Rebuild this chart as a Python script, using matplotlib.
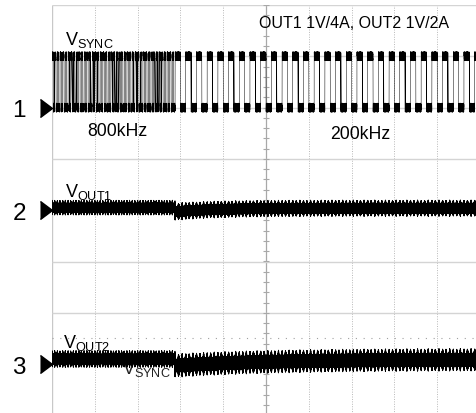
import numpy as np
import matplotlib
matplotlib.use('Agg')
import matplotlib.pyplot as plt

plt.rcParams['font.family'] = 'Liberation Sans'
plt.rcParams['mathtext.fontset'] = 'custom'
plt.rcParams['mathtext.rm'] = 'Liberation Sans'
plt.rcParams['mathtext.it'] = 'Liberation Sans:italic'
plt.rcParams['mathtext.bf'] = 'Liberation Sans:bold'

# Scope screen: 20 us/div, 10 x 8 divisions
time_per_div = 20.0
n_xdiv = 10
n_ydiv = 8

# Channel ground markers (div)
channel_names = ['1', '2', '3']
channel_offsets = [2.0, 0.0, -3.0]

# Sync clock, switched from 800 kHz to 200 kHz
sync_freqs = [0.8, 0.2]     # MHz
sync_labels = ['800kHz', '200kHz']
t_step = 57.5               # us
sync_swing = 1.0            # div
sync_noise = 0.09           # div

# Output ripple (div, relative to marker): before step, right after, settled
vout1_level = [0.05, -0.03, 0.04]
vout1_band = [0.09, 0.10, 0.10]
vout1_spike = [0.06, 0.07, 0.06]
vout2_level = [0.10, -0.03, 0.09]
vout2_band = [0.10, 0.13, 0.13]
vout2_spike = [0.07, 0.10, 0.09]
ripple_freqs = [0.8, 0.6]   # MHz
recovery_tau = [20.0, 45.0]  # us

t = np.arange(0, n_xdiv * time_per_div + 0.004, 0.004)
after = t >= t_step
fuzz = 0.75 * np.sin(2 * np.pi * 37.3 * t) + 0.25 * np.sin(2 * np.pi * 11.7 * t + 0.7)

# sync square wave
phase = np.where(after, sync_freqs[1] * (t - t_step), sync_freqs[0] * (t - t_step))
high = np.mod(phase, 1.0) < 0.5
v_sync = channel_offsets[0] + sync_swing * high + sync_noise * fuzz


def settle(vals, tau):
    return np.where(after, vals[2] + (vals[1] - vals[2]) * np.exp(-(t - t_step) / tau), vals[0])


def output_trace(offset, level, band, spike, tau):
    fr = np.where(after, ripple_freqs[1] * (t - t_step), ripple_freqs[0] * (t - t_step))
    pulse = np.abs(np.cos(np.pi * fr)) ** 10
    amp = settle(band, tau) + settle(spike, tau) * pulse
    return offset + settle(level, tau) + amp * fuzz


v_out1 = output_trace(channel_offsets[1], vout1_level, vout1_band, vout1_spike, recovery_tau[0])
v_out2 = output_trace(channel_offsets[2], vout2_level, vout2_band, vout2_spike, recovery_tau[1])

fig = plt.figure(figsize=(4.77, 4.14), dpi=100)
ax = fig.add_axes([52 / 477, -2.4 / 414, 428 / 477, 410.4 / 414])
t_max = n_xdiv * time_per_div
ax.set_xlim(0, t_max)
ax.set_ylim(-n_ydiv / 2, n_ydiv / 2)
ax.axis('off')

# graticule
xdivs = np.arange(1, n_xdiv) * time_per_div
ax.vlines([d for d in xdivs if d != t_max / 2], -4, 4, colors='#b8b8b8',
          linestyles=(0, (1, 1.5)), linewidth=0.7, zorder=1)
ax.vlines([0], -4, 4, colors='#c8c8c8', linewidth=1.0, zorder=1)
ax.vlines([t_max / 2], -4, 4, colors='#a8a8a8', linewidth=0.9, zorder=1)
ax.hlines(np.arange(-4, 5), 0, t_max, colors='#d4d4d4', linewidth=1.0, zorder=1)
ax.hlines([-2.5], 0, t_max, colors='#a0a0a0', linestyles=(0, (1, 6)), linewidth=0.8, zorder=1)
minor = np.arange(-4, 4.01, 0.2)
ax.hlines(minor, t_max / 2 - 1.4, t_max / 2 + 1.4, colors='#a8a8a8', linewidth=0.8, zorder=1)

# lower sync label sits under the VOUT2 trace
ax.text(32.6, -3.18, r'$\mathrm{V_{SYNC}}$', fontsize=13, color='#222222', zorder=2)

ax.plot(t, v_sync, color='black', linewidth=0.35, zorder=3)
for v in (v_out1, v_out2):
    ax.plot(t, v, color='black', linewidth=0.65, zorder=3)

# channel markers
tri = [(-2 / 3, -1), (2 / 3, 0), (-2 / 3, 1)]
for name, off in zip(channel_names, channel_offsets):
    ax.plot(-2.8, off, marker=tri, markersize=13, color='black', clip_on=False)
    ax.text(-15.4, off - 0.17, name, fontsize=17.5, ha='center', va='baseline', clip_on=False)

ax.text(6.0, 3.24, r'$\mathrm{V_{SYNC}}$', fontsize=13)
ax.text(6.0, 0.27, r'$\mathrm{V_{OUT1}}$', fontsize=13)
ax.text(5.1, -2.67, r'$\mathrm{V_{OUT2}}$', fontsize=13)
ax.text(16.4, 1.47, sync_labels[0], fontsize=12.7)
ax.text(130.0, 1.41, sync_labels[1], fontsize=12.7)
ax.text(96.5, 3.58, 'OUT1 1V/4A, OUT2 1V/2A', fontsize=11.5)

fig.savefig('out.png', dpi=100)
